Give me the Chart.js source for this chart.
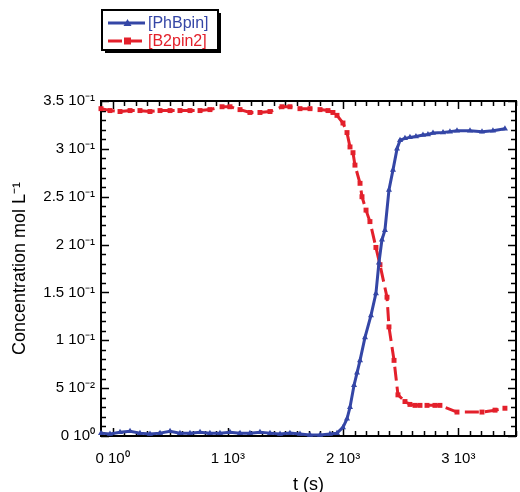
<!DOCTYPE html>
<html><head><meta charset="utf-8">
<script src="https://cdn.jsdelivr.net/npm/chart.js@4/dist/chart.umd.min.js"></script>
<style>html,body{margin:0;padding:0;background:#fff}canvas{display:block}</style>
</head><body>
<canvas id="c" width="520" height="492"></canvas>
<script>
const seriesNames = ['[PhBpin]', '[B2pin2]'];
const blueTime = [-100,-22,65,152,238,325,412,499,585,672,759,845,932,1019,1106,1192,1279,1366,1453,1539,1626,1713,1800,1886,1947,1999,2034,2060,2095,2121,2147,2190,2242,2285,2311,2337,2363,2398,2433,2468,2494,2537,2580,2632,2693,2736,2780,2867,2927,2988,3101,3205,3300,3404];
const blueConc = [0.003,0.002,0.004,0.005,0.003,0.002,0.003,0.005,0.003,0.003,0.004,0.003,0.003,0.004,0.003,0.003,0.004,0.003,0.002,0.003,0.002,0.001,0.001,0.002,0.003,0.009,0.018,0.030,0.053,0.066,0.079,0.103,0.126,0.149,0.181,0.205,0.215,0.257,0.278,0.300,0.309,0.311,0.312,0.313,0.3145,0.315,0.3166,0.317,0.318,0.319,0.319,0.318,0.319,0.321];
const redTime = [-100,-22,65,152,238,325,412,499,585,672,759,845,950,1019,1106,1192,1279,1366,1470,1539,1626,1713,1800,1869,1912,1947,1999,2034,2060,2086,2103,2147,2164,2199,2233,2285,2320,2381,2398,2442,2476,2537,2580,2624,2667,2728,2797,2840,2988,3205,3318,3404];
const redConc = [0.342,0.340,0.339,0.340,0.340,0.339,0.340,0.340,0.340,0.340,0.340,0.341,0.344,0.344,0.341,0.338,0.338,0.339,0.344,0.344,0.342,0.342,0.341,0.340,0.338,0.335,0.327,0.317,0.302,0.296,0.283,0.264,0.250,0.236,0.224,0.197,0.179,0.145,0.114,0.079,0.043,0.036,0.033,0.032,0.032,0.032,0.032,0.032,0.025,0.025,0.027,0.029];
const xTickValues = [0, 1000, 2000, 3000];
const xTickLabels = ['0 10\u2070', '1 10\u00b3', '2 10\u00b3', '3 10\u00b3'];
const yTickValues = [0, 0.05, 0.10, 0.15, 0.20, 0.25, 0.30, 0.35];
const yTickLabels = ['0 10\u2070', '5 10\u207b\u00b2', '1 10\u207b\u00b9', '1.5 10\u207b\u00b9', '2 10\u207b\u00b9', '2.5 10\u207b\u00b9', '3 10\u207b\u00b9', '3.5 10\u207b\u00b9'];
const xMin = -100, xMax = 3500, xMinorStep = 100, xMajorStep = 1000;
const yMin = 0, yMax = 0.35, yMinorStep = 0.01, yMajorStep = 0.05;

const BLUE = '#3446a6';
const RED = '#e3202b';
const FONT = "'Liberation Sans', Arial, Helvetica, sans-serif";

const framePlugin = {
  id: 'frame',
  beforeDatasetsDraw(chart) {
    const {ctx, chartArea: a, scales: {x, y}} = chart;
    ctx.save();
    ctx.strokeStyle = '#000';
    ctx.lineWidth = 1.5;
    ctx.beginPath();
    const nx = Math.round((xMax - xMin) / xMinorStep);
    for (let i = 0; i <= nx; i++) {
      const t = xMin + i * xMinorStep;
      const px = Math.round(x.getPixelForValue(t)) + 0.5;
      const len = (Math.abs(t % xMajorStep) < 1e-6) ? 8 : 5;
      ctx.moveTo(px, a.bottom); ctx.lineTo(px, a.bottom - len);
      ctx.moveTo(px, a.top); ctx.lineTo(px, a.top + len);
    }
    const ny = Math.round((yMax - yMin) / yMinorStep);
    for (let i = 0; i <= ny; i++) {
      const v = yMin + i * yMinorStep;
      const py = Math.round(y.getPixelForValue(v)) + 0.5;
      const len = (i % Math.round(yMajorStep / yMinorStep) === 0) ? 8 : 5;
      ctx.moveTo(a.left, py); ctx.lineTo(a.left + len, py);
      ctx.moveTo(a.right, py); ctx.lineTo(a.right - len, py);
    }
    ctx.stroke();
    ctx.lineWidth = 2;
    ctx.strokeRect(a.left, a.top, a.right - a.left, a.bottom - a.top);
    ctx.restore();
  }
};

const legendPlugin = {
  id: 'boxLegend',
  afterDraw(chart) {
    const ctx = chart.ctx;
    const bx = 102, by = 10, bw = 116, bh = 40;
    ctx.save();
    ctx.fillStyle = '#000';
    ctx.fillRect(bx + 3, by + 3, bw, bh);
    ctx.fillStyle = '#fff';
    ctx.fillRect(bx, by, bw, bh);
    ctx.strokeStyle = '#000';
    ctx.lineWidth = 2;
    ctx.strokeRect(bx, by, bw, bh);
    chart.data.datasets.forEach((ds, i) => {
      const yy = by + 13 + i * 18;
      ctx.strokeStyle = ds.borderColor;
      ctx.lineWidth = 3;
      ctx.setLineDash(ds.borderDash || []);
      ctx.beginPath(); ctx.moveTo(108, yy); ctx.lineTo(145, yy); ctx.stroke();
      ctx.setLineDash([]);
      ctx.fillStyle = ds.borderColor;
      if (ds.pointStyle === 'rect') {
        ctx.fillRect(124, yy - 3.5, 7, 7);
      } else {
        ctx.beginPath(); ctx.moveTo(127.5, yy - 4); ctx.lineTo(131.5, yy + 3); ctx.lineTo(123.5, yy + 3); ctx.closePath(); ctx.fill();
      }
      ctx.font = '16px ' + FONT;
      ctx.textBaseline = 'middle';
      ctx.textAlign = 'left';
      ctx.fillText(ds.label, 148, yy + 1);
    });
    ctx.restore();
  }
};

new Chart(document.getElementById('c'), {
  type: 'line',
  data: {
    datasets: [
      {
        label: seriesNames[0],
        data: blueTime.map((t, i) => ({x: t, y: blueConc[i]})),
        borderColor: BLUE, backgroundColor: BLUE,
        borderWidth: 3, pointStyle: 'triangle', pointRadius: 3.5,
        pointBorderWidth: 0, tension: 0, clip: false
      },
      {
        label: seriesNames[1],
        data: redTime.map((t, i) => ({x: t, y: redConc[i]})),
        borderColor: RED, backgroundColor: RED,
        borderWidth: 3, borderDash: [14, 6], pointStyle: 'rect', pointRadius: 3.5,
        pointBorderWidth: 0, tension: 0, clip: false
      }
    ]
  },
  options: {
    responsive: false,
    animation: false,
    devicePixelRatio: 1,
    layout: {padding: {top: 101, right: 4, left: 0, bottom: 0}},
    plugins: {legend: {display: false}, tooltip: {enabled: false}},
    scales: {
      x: {
        type: 'linear', min: xMin, max: xMax,
        afterBuildTicks: s => { s.ticks = xTickValues.map(v => ({value: v})); },
        afterFit: s => { s.height = 56; },
        grid: {display: false, drawTicks: false},
        border: {display: false},
        ticks: {
          autoSkip: false, maxRotation: 0, padding: 14, color: '#000',
          font: {family: FONT, size: 15},
          callback: (v, i) => xTickLabels[i]
        },
        title: {display: true, text: 't (s)', color: '#000', font: {family: FONT, size: 18, lineHeight: 0.8}, padding: {top: 0, bottom: 0}}
      },
      y: {
        type: 'linear', min: yMin, max: yMax,
        afterBuildTicks: s => { s.ticks = yTickValues.map(v => ({value: v})); },
        afterFit: s => { s.width = 101; },
        grid: {display: false, drawTicks: false},
        border: {display: false},
        ticks: {
          autoSkip: false, padding: 6, color: '#000',
          font: {family: FONT, size: 15},
          callback: (v, i) => yTickLabels[i]
        },
        title: {display: true, text: 'Concentration mol L\u207b\u00b9', color: '#000', font: {family: FONT, size: 18}, padding: {top: 9, bottom: 0}}
      }
    }
  },
  plugins: [framePlugin, legendPlugin]
});
</script>
</body></html>
